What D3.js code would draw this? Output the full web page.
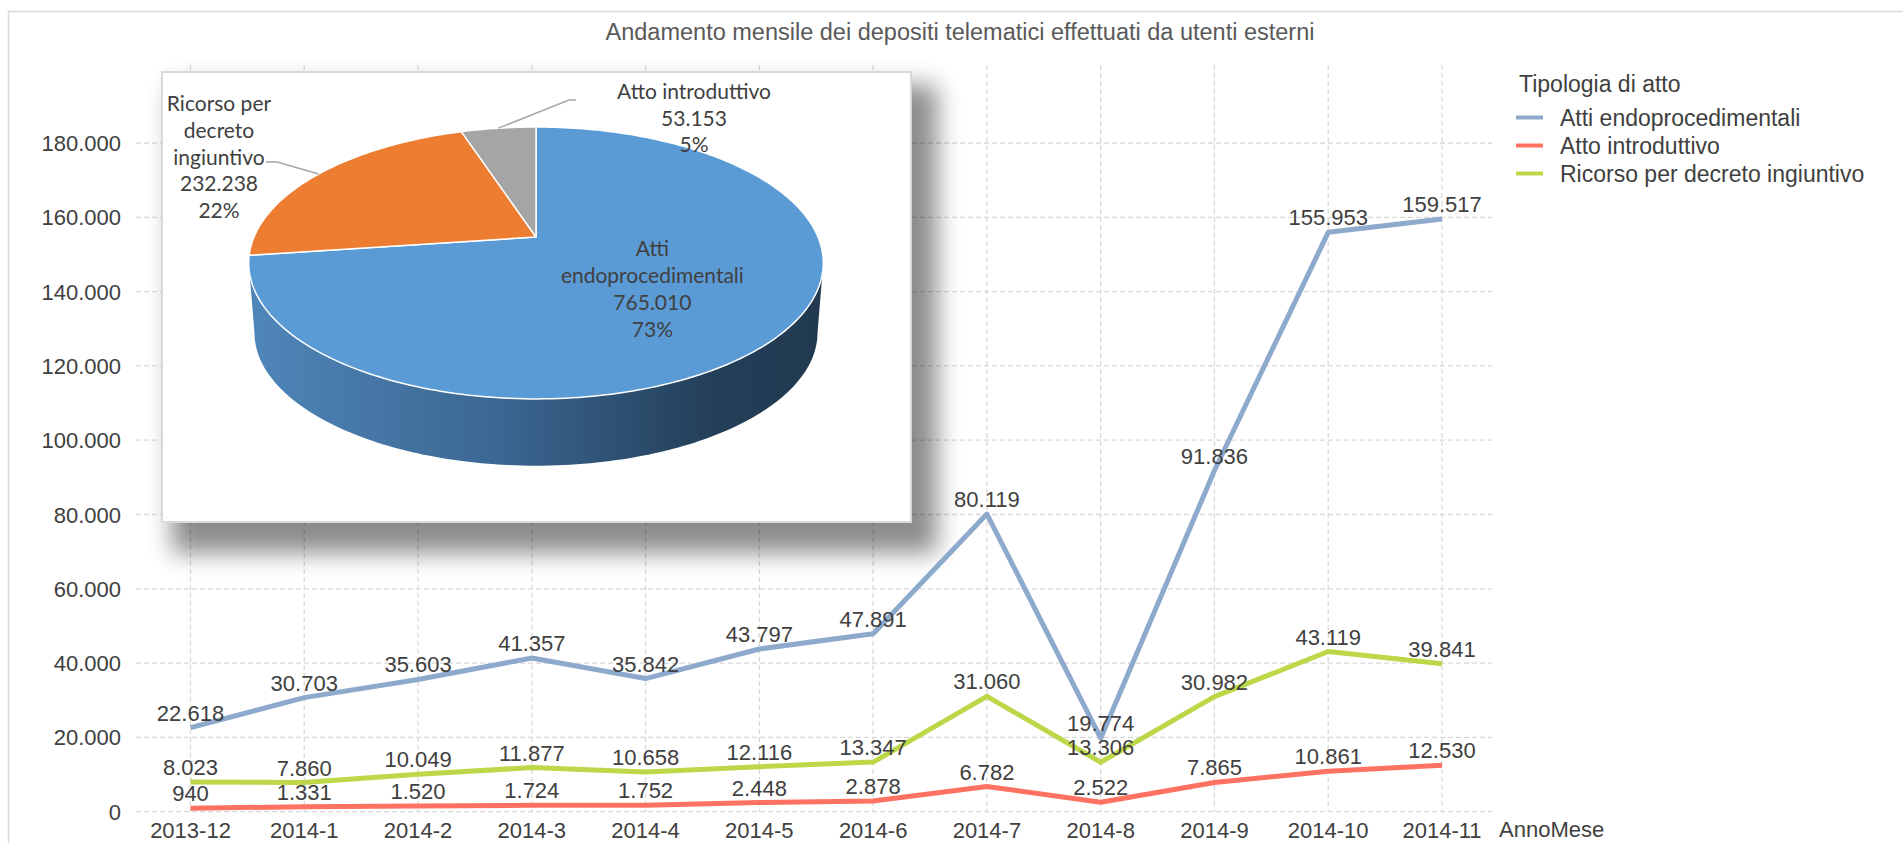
<!DOCTYPE html>
<html>
<head>
<meta charset="utf-8">
<script src="https://cdn.jsdelivr.net/npm/d3@7"></script>
<style>
body { margin: 0; background: #fff; }
text { font-family: "Liberation Sans", Arial, sans-serif; }
</style>
</head>
<body>
<script>
// dati
var categories = ["2013-12", "2014-1", "2014-2", "2014-3", "2014-4", "2014-5", "2014-6", "2014-7", "2014-8", "2014-9", "2014-10", "2014-11"];
var attiEndo = [22618, 30703, 35603, 41357, 35842, 43797, 47891, 80119, 19774, 91836, 155953, 159517];
var attoIntro = [940, 1331, 1520, 1724, 1752, 2448, 2878, 6782, 2522, 7865, 10861, 12530];
var ricorso = [8023, 7860, 10049, 11877, 10658, 12116, 13347, 31060, 13306, 30982, 43119, 39841];
var seriesNames = ["Atti endoprocedimentali", "Atto introduttivo", "Ricorso per decreto ingiuntivo"];
var seriesColors = ["#8DA9CC", "#FF7261", "#BCD748"];
var yTicks = [0, 20000, 40000, 60000, 80000, 100000, 120000, 140000, 160000, 180000];

var pieNames = ["Atti endoprocedimentali", "Ricorso per decreto ingiuntivo", "Atto introduttivo"];
var pieValues = [765010, 232238, 53153];
var pieColors = ["#5B9BD5", "#ED7D31", "#A5A5A5"];

var it = d3.formatLocale({decimal: ",", thousands: ".", grouping: [3], currency: ["€", ""]});
var fmt = it.format(",d");

var svg = d3.select("body").append("svg")
  .attr("width", 1903)
  .attr("height", 843);

var defs = svg.append("defs");
defs.append("filter").attr("id", "blur")
  .attr("x", "-20%").attr("y", "-20%").attr("width", "140%").attr("height", "140%")
  .append("feGaussianBlur").attr("stdDeviation", 12);

var grad = defs.append("linearGradient").attr("id", "side")
  .attr("gradientUnits", "userSpaceOnUse")
  .attr("x1", 250).attr("x2", 825).attr("y1", 0).attr("y2", 0);
grad.append("stop").attr("offset", 0).attr("stop-color", "#4F86B9");
grad.append("stop").attr("offset", 0.45).attr("stop-color", "#3A6590");
grad.append("stop").attr("offset", 0.8).attr("stop-color", "#243F59");
grad.append("stop").attr("offset", 1).attr("stop-color", "#213950");

// cornice
svg.append("rect")
  .attr("x", 8.5).attr("y", 11.5).attr("width", 2000).attr("height", 1000)
  .attr("fill", "none").attr("stroke", "#d9d9d9").attr("stroke-width", 1.5);

svg.append("text")
  .attr("x", 960).attr("y", 40)
  .attr("text-anchor", "middle")
  .style("font-family", "'Liberation Sans Narrow', 'Liberation Sans', sans-serif")
  .style("font-size", "23.5px")
  .attr("fill", "#595959")
  .text("Andamento mensile dei depositi telematici effettuati da utenti esterni");

var x = d3.scalePoint().domain(categories).range([190.5, 1442]);
var y = d3.scaleLinear().domain([0, 180000]).range([811.7, 143]);

// griglia
svg.selectAll(".hgrid").data(yTicks).enter().append("line")
  .attr("x1", 136).attr("x2", 1492)
  .attr("y1", function(d){ return y(d); }).attr("y2", function(d){ return y(d); })
  .attr("stroke", "#d9d9d9").attr("stroke-width", 1.3).attr("stroke-dasharray", "5,3");

svg.selectAll(".vgrid").data(categories).enter().append("line")
  .attr("x1", function(d){ return x(d); }).attr("x2", function(d){ return x(d); })
  .attr("y1", 65).attr("y2", y(0))
  .attr("stroke", "#d9d9d9").attr("stroke-width", 1.3).attr("stroke-dasharray", "5,3");

svg.selectAll(".ylab").data(yTicks).enter().append("text")
  .attr("x", 121).attr("y", function(d){ return y(d) + 8; })
  .attr("text-anchor", "end")
  .style("font-size", "22px").attr("fill", "#404040")
  .text(function(d){ return fmt(d); });

svg.selectAll(".xlab").data(categories).enter().append("text")
  .attr("x", function(d){ return x(d); }).attr("y", 838)
  .attr("text-anchor", "middle")
  .style("font-size", "22px").attr("fill", "#404040")
  .text(function(d){ return d; });

svg.append("text")
  .attr("x", 1499).attr("y", 837)
  .style("font-size", "22px").attr("fill", "#404040")
  .text("AnnoMese");

// riquadro torta con ombra
svg.append("rect")
  .attr("x", 172).attr("y", 85).attr("width", 765).attr("height", 468)
  .attr("fill", "#000").attr("opacity", 0.45)
  .attr("filter", "url(#blur)");
svg.append("rect")
  .attr("x", 162).attr("y", 72).attr("width", 749).attr("height", 450)
  .attr("fill", "#fff").attr("stroke", "#d9d9d9").attr("stroke-width", 2);

// torta 3D in prospettiva
var PX = 536, PY = 237, PA = 282, PB = 131, K = 0.191, PH = 70, SB = 0.98;
function topPt(a, r) {
  r = r == null ? 1 : r;
  var u = Math.sin(a) * r, v = Math.cos(a) * r, d = 1 / (1 + K * v);
  return [PX + PA * u * d, PY - PB * v * d];
}
function botPt(a) {
  var u = Math.sin(a), v = Math.cos(a), d = 1 / (1 + K * v);
  return [PX + PA * u * d * SB, PY + PH - PB * v * d * SB];
}
function arcPts(f, a0, a1) {
  var n = Math.max(2, Math.ceil(Math.abs(a1 - a0) / 0.02)), pts = [];
  for (var i = 0; i <= n; i++) pts.push(f(a0 + (a1 - a0) * i / n));
  return pts;
}

var arcs = d3.pie().sort(null).value(function(d){ return d; })(pieValues);
var total = d3.sum(pieValues);
var sideMin = Math.acos(-K), sideMax = 2 * Math.PI - Math.acos(-K);

var pieG = svg.append("g");
arcs.forEach(function(a, i) {
  var a0 = Math.max(a.startAngle, sideMin), a1 = Math.min(a.endAngle, sideMax);
  if (a1 <= a0) return;
  var pts = arcPts(topPt, a0, a1).concat(arcPts(botPt, a1, a0));
  pieG.append("path")
    .attr("d", d3.line()(pts) + "Z")
    .attr("fill", i === 0 ? "url(#side)" : d3.color(pieColors[i]).darker(1));
});

pieG.selectAll(".slice").data(arcs).enter().append("path")
  .attr("d", function(a){
    var pts = [[PX, PY]].concat(arcPts(topPt, a.startAngle, a.endAngle));
    return d3.line()(pts) + "Z";
  })
  .attr("fill", function(a, i){ return pieColors[i]; })
  .attr("stroke", "#fff").attr("stroke-width", 1.5).attr("stroke-linejoin", "round");

function midOf(a) { return (a.startAngle + a.endAngle) / 2; }
function pieLines(i) {
  var words = i === 0 ? ["Atti", "endoprocedimentali"] :
              i === 1 ? ["Ricorso per", "decreto", "ingiuntivo"] : [pieNames[i]];
  return words.concat([fmt(pieValues[i]), Math.round(pieValues[i] / total * 100) + "%"]);
}
function drawPieLabel(i, cx, cy, lh) {
  var lines = pieLines(i);
  var top = cy - (lines.length - 1) * lh / 2;
  pieG.append("g").selectAll("text").data(lines).enter().append("text")
    .attr("x", cx).attr("y", function(d, j){ return top + j * lh; })
    .attr("dy", "0.35em")
    .attr("text-anchor", "middle")
    .style("font-family", "Lato, 'Liberation Sans', sans-serif")
    .style("font-size", "21px").attr("fill", "#404040")
    .text(function(d){ return d; });
}

var inner = topPt(midOf(arcs[0]), 0.5);
drawPieLabel(0, inner[0] + 3, inner[1] + 6, 27);
drawPieLabel(1, 219, 157.3, 26.7);
drawPieLabel(2, 694, 118.3, 26.7);

var e1 = topPt(midOf(arcs[1])), e2 = topPt(midOf(arcs[2]));
pieG.append("path")
  .attr("d", "M266,162H277L" + e1[0] + "," + e1[1])
  .attr("fill", "none").attr("stroke", "#a6a6a6").attr("stroke-width", 1.5);
pieG.append("path")
  .attr("d", "M576,100H569L" + e2[0] + "," + e2[1])
  .attr("fill", "none").attr("stroke", "#a6a6a6").attr("stroke-width", 1.5);

// linee
var seriesData = [attiEndo, attoIntro, ricorso];
var line = d3.line()
  .x(function(d, i){ return x(categories[i]); })
  .y(function(d){ return y(d); });

svg.selectAll(".serie").data(seriesData).enter().append("path")
  .attr("d", line)
  .attr("fill", "none")
  .attr("stroke", function(d, i){ return seriesColors[i]; })
  .attr("stroke-width", 5)
  .attr("stroke-linejoin", "round");

seriesData.forEach(function(s) {
  svg.append("g").selectAll("text").data(s).enter().append("text")
    .attr("x", function(d, i){ return x(categories[i]); })
    .attr("y", function(d){ return y(d) - 7; })
    .attr("text-anchor", "middle")
    .style("font-size", "22px").attr("fill", "#404040")
    .text(function(d){ return fmt(d); });
});

// legenda
var leg = svg.append("g");
leg.append("text")
  .attr("x", 1519).attr("y", 92)
  .style("font-size", "23px").attr("fill", "#404040")
  .text("Tipologia di atto");
var items = leg.selectAll(".item").data(seriesNames).enter().append("g")
  .attr("transform", function(d, i){ return "translate(0," + (117.5 + i * 28) + ")"; });
items.append("line")
  .attr("x1", 1516).attr("x2", 1543)
  .attr("stroke", function(d, i){ return seriesColors[i]; })
  .attr("stroke-width", 4);
items.append("text")
  .attr("x", 1560).attr("y", 8)
  .style("font-size", "23px").attr("fill", "#404040")
  .text(function(d){ return d; });
</script>
</body>
</html>
